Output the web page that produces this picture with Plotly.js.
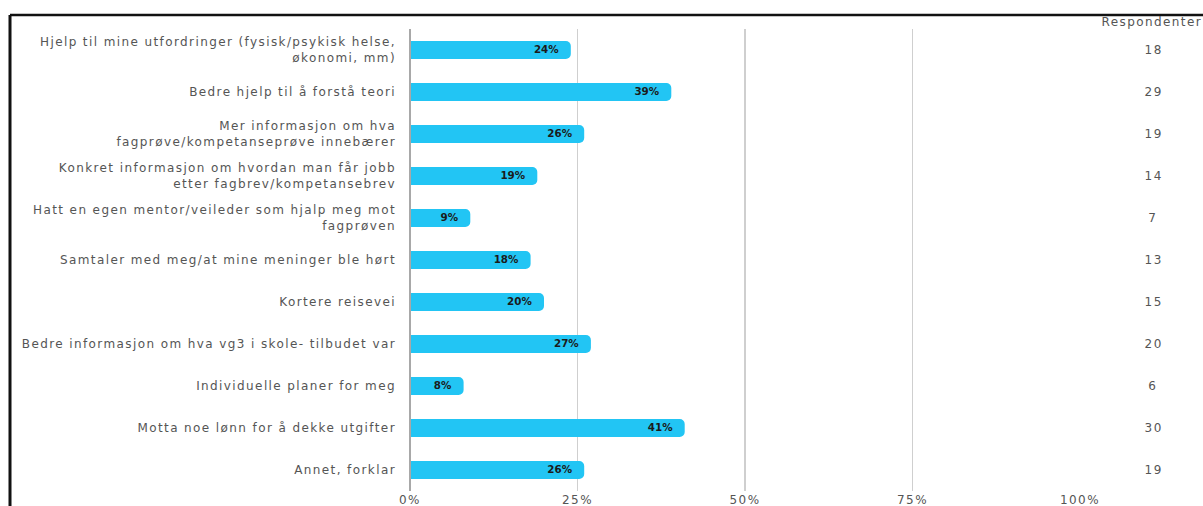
<!DOCTYPE html>
<html>
<head>
<meta charset="utf-8">
<script src="https://cdn.plot.ly/plotly-3.0.1.min.js"></script>
<style>
html,body{margin:0;padding:0;background:#fff;}
#chart{width:1203px;height:506px;}
#chart .ytick text, #chart .xtick text, #chart .annotation-text { letter-spacing: 1.4px; }
#chart .bartext text { letter-spacing: 0.4px; }
</style>
</head>
<body>
<div id="chart"></div>
<script>
const categories = [
  "Hjelp til mine utfordringer (fysisk/psykisk helse,<br>økonomi, mm)",
  "Bedre hjelp til å forstå teori",
  "Mer informasjon om hva<br>fagprøve/kompetanseprøve innebærer",
  "Konkret informasjon om hvordan man får jobb<br>etter fagbrev/kompetansebrev",
  "Hatt en egen mentor/veileder som hjalp meg mot<br>fagprøven",
  "Samtaler med meg/at mine meninger ble hørt",
  "Kortere reisevei",
  "Bedre informasjon om hva vg3 i skole- tilbudet var",
  "Individuelle planer for meg",
  "Motta noe lønn for å dekke utgifter",
  "Annet, forklar"
];
const percents = [24, 39, 26, 19, 9, 18, 20, 27, 8, 41, 26];
const respondents = [18, 29, 19, 14, 7, 13, 15, 20, 6, 30, 19];
const xTickValues = [0, 25, 50, 75, 100];
const xTickLabels = ["0%", "25%", "50%", "75%", "100%"];
const respondentHeader = "Respondenter";

const W = 1203, H = 506;
const M = {l: 410, r: 123, t: 29, b: 15};
const pw = W - M.l - M.r, ph = H - M.t - M.b;
const px = v => (v - M.l) / pw;          // pixel x -> paper x
const py = v => 1 - (v - M.t) / ph;      // pixel y -> paper y

const font = "'DejaVu Sans', Verdana, sans-serif";

const trace = {
  type: 'bar',
  orientation: 'h',
  y: categories,
  x: percents,
  text: percents.map(v => v + '%\u00a0\u00a0'),
  textposition: 'inside',
  insidetextanchor: 'end',
  constraintext: 'none',
  textangle: 0,
  textfont: {family: font, size: 12, color: '#1b1b1b', weight: 600},
  marker: {color: '#22C5F4', cornerradius: 5},
  hoverinfo: 'skip',
  cliponaxis: false
};

const annotations = respondents.map((r, i) => ({
  xref: 'paper', yref: 'y',
  x: px(1153), y: categories[i],
  text: String(r), showarrow: false,
  xanchor: 'center', yanchor: 'middle',
  font: {family: font, size: 12, color: '#555'}
}));
annotations.push({
  xref: 'paper', yref: 'paper',
  x: px(1152), y: py(22),
  text: respondentHeader, showarrow: false,
  xanchor: 'center', yanchor: 'middle',
  font: {family: font, size: 12, color: '#555'}
});

const layout = {
  width: W, height: H,
  margin: M,
  paper_bgcolor: '#fff', plot_bgcolor: '#fff',
  showlegend: false,
  bargap: 0.57,
  font: {family: font, color: '#555'},
  xaxis: {
    range: [0, 100],
    tickvals: xTickValues,
    ticktext: xTickLabels,
    showgrid: true, gridcolor: '#cfcfcf', gridwidth: 1.5,
    zeroline: false, showline: false,
    tickfont: {family: font, size: 12, color: '#555'},
    fixedrange: true
  },
  yaxis: {
    autorange: 'reversed',
    tickfont: {family: font, size: 12, color: '#555'},
    showgrid: false, zeroline: false, showline: false,
    ticks: '', ticklabelstandoff: 13,
    fixedrange: true
  },
  shapes: [
    {type: 'line', xref: 'paper', yref: 'paper', x0: 0, x1: 0, y0: 0, y1: 1,
     line: {color: '#a8a8a8', width: 2}},
    {type: 'line', xref: 'paper', yref: 'paper', x0: px(10), x1: px(1210), y0: py(15), y1: py(15),
     line: {color: '#111', width: 2.5}},
    {type: 'line', xref: 'paper', yref: 'paper', x0: px(10), x1: px(10), y0: py(15), y1: py(520),
     line: {color: '#111', width: 3}}
  ],
  annotations: annotations
};

Plotly.newPlot('chart', [trace], layout, {displayModeBar: false, staticPlot: true});
</script>
</body>
</html>
